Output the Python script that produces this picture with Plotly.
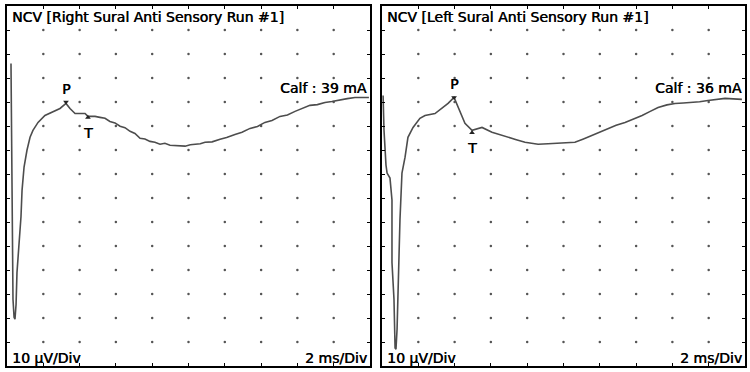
import numpy as np
import plotly.graph_objects as go
from plotly.subplots import make_subplots

# ---- data (time in ms, amplitude in µV) ----
# Right sural (left panel)
rs_t = [0.22, 0.28, 0.33, 0.39, 0.44, 0.50, 0.55, 0.66, 0.77, 0.83, 0.94, 1.10, 1.27, 1.43, 1.71,
        2.09, 2.48, 2.92, 3.25, 3.47, 3.75, 4.30, 4.46, 4.85, 5.12, 5.40, 5.67, 5.95, 6.23, 6.50,
        6.78, 7.05, 7.33, 7.60, 7.88, 8.15, 8.43, 8.70, 8.98, 9.40, 9.81, 10.10, 10.36, 10.65,
        10.91, 11.30, 11.74, 12.10, 12.56, 12.95, 13.39, 13.80, 14.21, 14.60, 15.04, 15.45, 15.87,
        16.25, 16.69, 17.10, 17.52, 17.90, 18.35, 18.75, 19.17, 19.55, 19.94]
rs_v = [46.0, -10.8, -52.2, -59.7, -60.5, -54.3, -41.1, -29.4, -17.8, -6.7, 2.9, 9.9, 15.3, 18.2, 21.5,
        24.4, 25.7, 27.3, 29.4, 27.3, 25.2, 25.2, 24.0, 24.0, 23.6, 23.2, 21.9, 21.3, 19.9, 19.3,
        17.8, 16.9, 14.9, 14.6, 13.6, 13.2, 12.4, 12.8, 12.0, 11.9, 11.6, 12.2, 12.4, 12.6,
        13.2, 13.4, 14.5, 15.2, 16.5, 17.4, 19.0, 19.8, 21.5, 22.3, 24.0, 24.6, 26.1,
        27.2, 28.6, 28.9, 29.8, 30.2, 31.0, 31.4, 31.9, 31.8, 31.9]

# Left sural (right panel)
ls_t = [0.06, 0.11, 0.22, 0.28, 0.44, 0.55, 0.55, 0.66, 0.72, 0.77, 0.83, 0.88, 0.94, 0.99, 1.10,
        1.27, 1.43, 1.71, 2.09, 2.37, 2.92, 3.31, 3.64, 3.97, 4.30, 4.57, 4.96, 5.29, 5.51, 6.06,
        6.50, 6.94, 7.40, 7.88, 8.25, 8.60, 9.15, 9.70, 10.15, 10.63, 11.10, 11.57, 12.00, 12.45,
        12.90, 13.39, 13.85, 14.33, 14.75, 15.21, 15.70, 16.14, 16.60, 17.08, 17.50, 17.96, 18.45,
        18.90, 19.35, 19.83]
ls_v = [32.7, 18.2, 3.7, 0.4, -1.7, -10.8, -36.9, -52.2, -72.5, -73.0, -64.7, -46.4, -34.4, -19.1, 0.4,
        7.0, 15.3, 19.4, 23.2, 24.4, 25.2, 27.3, 29.4, 31.9, 25.7, 21.1, 18.2, 19.0, 19.4, 17.4,
        16.3, 15.3, 14.3, 13.2, 12.8, 12.4, 12.6, 12.8, 13.0, 13.2, 14.6, 16.1, 17.4, 19.0,
        20.3, 21.5, 22.8, 24.4, 26.0, 27.7, 28.8, 29.4, 29.6, 29.8, 30.1, 30.6, 31.0,
        31.5, 31.3, 31.1]

rs_P = (3.25, 30.0)
rs_T = (4.46, 23.5)
ls_P = (3.97, 31.9)
ls_T = (4.96, 17.2)

titles = ["NCV [Right Sural Anti Sensory Run #1]", "NCV [Left Sural Anti Sensory Run #1]"]
stim_labels = ["Calf : 39 mA", "Calf : 36 mA"]
stim_label_v = 35.8
amp_label = "10 µV/Div"
time_label = "2 ms/Div"

X_RANGE = [0, 20]
Y_RANGE = [-80, 70]
X_DIV = 2
Y_DIV = 10

FONT = "DejaVu Sans"
FS = 14
TRACE = "#4d4d4d"
TXT = dict(family=FONT, size=FS, color="black", shadow="0.5px 0px 0px black")

fig = make_subplots(rows=1, cols=2, horizontal_spacing=0.0)
W, H = 750, 372
doms = [[7 / W, 370 / W], [382 / W, 745 / W]]
ydom = [(H - 366) / H, (H - 6) / H]

gx = np.arange(X_RANGE[0] + X_DIV, X_RANGE[1], X_DIV)
gy = np.arange(Y_RANGE[0] + Y_DIV, Y_RANGE[1], Y_DIV)
GX, GY = np.meshgrid(gx, gy)

panels = [(rs_t, rs_v, rs_P, rs_T), (ls_t, ls_v, ls_P, ls_T)]
for i, (t, v, P, T) in enumerate(panels):
    col = i + 1
    fig.add_trace(go.Scatter(x=GX.ravel(), y=GY.ravel(), mode="markers",
                             marker=dict(size=2.5, color="#555555"), hoverinfo="skip",
                             showlegend=False), row=1, col=col)
    fig.add_trace(go.Scatter(x=t, y=v, mode="lines", line=dict(color=TRACE, width=1.6),
                             showlegend=False), row=1, col=col)
    fig.add_trace(go.Scatter(x=[P[0]], y=[P[1]], mode="markers",
                             marker=dict(symbol="triangle-down", size=5, color="#222"),
                             showlegend=False), row=1, col=col)
    fig.add_trace(go.Scatter(x=[T[0]], y=[T[1]], mode="markers",
                             marker=dict(symbol="triangle-up", size=5, color="#222"),
                             showlegend=False), row=1, col=col)
    xa = "x" if i == 0 else "x2"
    ya = "y" if i == 0 else "y2"
    fig.add_annotation(x=P[0], y=P[1], xref=xa, yref=ya, text="P", showarrow=False,
                       yshift=13, font=TXT)
    fig.add_annotation(x=T[0], y=T[1], xref=xa, yref=ya, text="T", showarrow=False,
                       yshift=-15, font=TXT)
    fig.add_annotation(x=0.008, y=1.0, xref=f"{xa} domain", yref=f"{ya} domain", text=titles[i],
                       showarrow=False, xanchor="left", yanchor="top", yshift=-1, font=TXT)
    fig.add_annotation(x=0.997, y=stim_label_v, xref=f"{xa} domain", yref=ya,
                       text=stim_labels[i], showarrow=False, xanchor="right", yanchor="middle",
                       font=TXT)
    fig.add_annotation(x=0.008, y=0.0, xref=f"{xa} domain", yref=f"{ya} domain", text=amp_label,
                       showarrow=False, xanchor="left", yanchor="bottom", yshift=-2, font=TXT)
    fig.add_annotation(x=0.997, y=0.0, xref=f"{xa} domain", yref=f"{ya} domain", text=time_label,
                       showarrow=False, xanchor="right", yanchor="bottom", yshift=-2, font=TXT)
    axx = dict(range=X_RANGE, domain=doms[i], showgrid=False, zeroline=False, showticklabels=False,
               ticks="inside", ticklen=3, tickcolor="black", dtick=X_DIV, tick0=0,
               showline=True, linecolor="black", linewidth=2, mirror="allticks", fixedrange=True)
    axy = dict(range=Y_RANGE, domain=ydom, showgrid=False, zeroline=False, showticklabels=False,
               ticks="inside", ticklen=3, tickcolor="black", dtick=Y_DIV, tick0=0,
               showline=True, linecolor="black", linewidth=2, mirror="allticks", fixedrange=True)
    if i == 0:
        fig.update_layout(xaxis=axx, yaxis=axy)
    else:
        fig.update_layout(xaxis2=axx, yaxis2=axy)

fig.update_layout(width=W, height=H, margin=dict(l=0, r=0, t=0, b=0),
                  paper_bgcolor="white", plot_bgcolor="white", showlegend=False)
fig.write_html("out.html", config={"displayModeBar": False},
               post_script="document.body.style.margin='0';")
